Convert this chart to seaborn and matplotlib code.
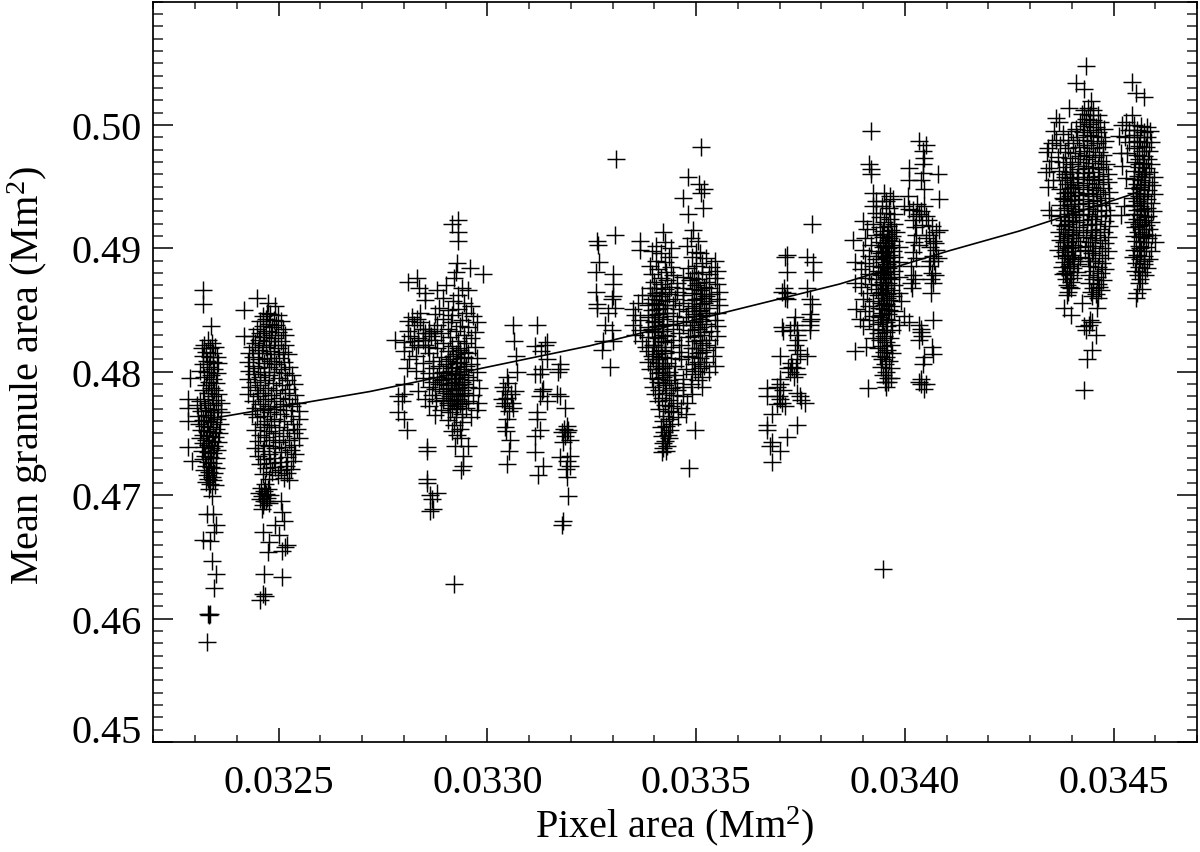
import matplotlib
matplotlib.use("Agg")
import matplotlib.pyplot as plt
import seaborn as sns
import pandas as pd
from matplotlib.ticker import MultipleLocator

# All points: (pixel area in 1e-6 Mm2, mean granule area in 1e-4 Mm2)
group_a = [(32320,4866),(32320,4855),(32339,4837),(32289,4795),(32284,4778),(32284,4771),(32284,4760),(32284,4739),(32292,4728),
(32334,4705),(32340,4699),(32329,4685),(32343,4685),(32350,4676),(32345,4670),(32320,4664),(32335,4663),(32341,4647),(32350,4636),(32345,4625),(32331,4604),(32334,4603),(32337,4604),(32329,4581),
(32330,4826),(32322,4822),(32340,4823),(32316,4819),(32335,4819),(32348,4820),(32326,4816),(32344,4815),(32318,4813),(32336,4812),(32352,4812),(32328,4809),(32342,4808),(32320,4806),(32356,4807),(32334,4804),(32346,4802),(32312,4801),(32328,4800),(32352,4799),(32338,4797),(32322,4796),(32344,4794),(32333,4792),(32350,4791),(32326,4789),(32338,4787),(32318,4785),(32346,4785),(32330,4783),(32356,4782),(32340,4780),(32322,4778),(32350,4777),(32312,4776),(32332,4775),(32362,4775),(32344,4773),(32304,4773),(32324,4771),(32354,4770),(32336,4769),(32314,4768),(32346,4767),(32362,4767),(32326,4765),(32306,4764),(32338,4763),(32352,4762),(32318,4761),(32330,4760),(32344,4759),(32310,4758),(32360,4758),(32322,4756),(32336,4755),(32350,4754),(32314,4753),(32328,4752),(32342,4751),(32358,4750),(32320,4749),(32334,4748),(32348,4747),(32312,4746),(32326,4745),(32340,4744),(32354,4743),(32318,4742),(32332,4741),(32346,4740),(32322,4739),(32338,4738),(32352,4737),(32316,4736),(32330,4735),(32344,4734),(32324,4732),(32336,4731),(32350,4730),(32320,4729),(32332,4727),(32344,4726),(32326,4724),(32338,4723),(32350,4722),(32322,4720),(32334,4719),(32346,4718),(32328,4716),(32340,4715),(32332,4713),(32344,4712),(32326,4711),(32336,4709),(32348,4708)]

group_b = [(32449,4860),(32418,4850),(32475,4856),(32492,4853),(32473,4848),(32418,4829),(32461,4689),(32463,4670),(32509,4686),(32492,4676),(32521,4660),(32509,4655),(32475,4654),(32478,4662),(32466,4636),(32509,4634),(32463,4620),(32456,4615),(32468,4618),(32515,4658),(32505,4695),(32512,4679),(32500,4668),(32470,4695),
(32480,4847),(32462,4845),(32498,4846),(32470,4843),(32488,4842),(32455,4841),(32505,4841),(32476,4839),(32494,4838),(32462,4837),(32484,4836),(32448,4835),(32510,4835),(32470,4833),(32498,4832),(32456,4831),(32482,4830),(32516,4830),(32440,4829),(32466,4828),(32492,4827),(32452,4826),(32476,4825),(32506,4825),(32444,4823),(32462,4822),(32488,4822),(32516,4822),(32436,4820),(32470,4820),(32498,4819),(32450,4818),(32480,4817),(32510,4816),(32430,4815),(32460,4815),(32490,4814),(32522,4814),(32440,4812),(32472,4811),(32502,4811),(32452,4810),(32482,4809),(32428,4808),(32514,4808),(32464,4807),(32494,4806),(32438,4805),(32476,4804),(32526,4804),(32450,4803),(32506,4802),(32430,4801),(32466,4800),(32490,4800),(32516,4799),(32442,4798),(32478,4797),(32532,4797),(32456,4796),(32500,4795),(32426,4794),(32468,4793),(32520,4793),(32444,4792),(32486,4791),(32536,4790),(32456,4789),(32508,4789),(32432,4788),(32474,4787),(32526,4786),(32448,4785),(32494,4785),(32462,4783),(32516,4783),(32428,4782),(32482,4781),(32540,4781),(32450,4780),(32504,4779),(32468,4778),(32526,4778),(32440,4776),(32488,4776),(32544,4775),(32456,4774),(32510,4774),(32474,4772),(32532,4772),(32444,4771),(32494,4770),(32462,4769),(32518,4769),(32548,4768),(32480,4767),(32436,4766),(32504,4766),(32466,4764),(32530,4764),(32448,4763),(32490,4762),(32548,4762),(32472,4760),(32514,4760),(32456,4758),(32534,4758),(32482,4757),(32500,4755),(32464,4755),(32544,4754),(32444,4753),(32520,4753),(32476,4752),(32492,4750),(32536,4750),(32456,4749),(32510,4748),(32470,4747),(32548,4746),(32486,4745),(32524,4745),(32450,4744),(32500,4743),(32464,4741),(32538,4741),(32478,4740),(32516,4739),(32444,4738),(32492,4738),(32530,4737),(32462,4736),(32506,4735),(32476,4733),(32540,4733),(32450,4732),(32520,4731),(32490,4730),(32466,4729),(32534,4728),(32504,4727),(32480,4726),(32456,4725),(32518,4724),(32492,4723),(32470,4722),(32530,4721),(32506,4720),(32484,4719),(32520,4718),(32462,4717),(32498,4716),(32512,4714),(32476,4713),(32526,4712),
(32468,4709),(32458,4706),(32474,4705),(32464,4703),(32452,4702),(32470,4701),(32480,4700),(32460,4699),(32472,4698),(32456,4697),(32466,4695),(32476,4694),(32462,4692)]

group_c = [(32930,4923),(32930,4913),(32930,4906),(32916,4920),(32927,4888),(32925,4881),(32920,4876),(32958,4884),(32989,4879),(32810,4873),(32832,4876),(32836,4868),(32855,4739),(32855,4736),(32855,4713),(32855,4710),(32880,4702),(32868,4697),(32863,4687),(32870,4689),(32862,4700),(32923,4740),(32954,4740),(32942,4732),(32942,4724),(32938,4720),(32920,4628),(32808,4753),(32779,4826),(32787,4780),(32787,4767),(32795,4776),(32800,4762),
(32850,4864),(32880,4866),(32900,4870),(32940,4868),(32955,4866),(32930,4862),(32895,4860),(32850,4858),(32918,4857),(32945,4856),(32960,4853),(32885,4852),(32930,4851),(32905,4850),(32838,4848),(32950,4848),(32875,4847),(32915,4846),(32965,4845),(32820,4844),(32832,4843),(32895,4843),(32940,4842),(32810,4841),(32840,4840),(32912,4840),(32975,4840),(32825,4838),(32880,4838),(32935,4837),(32955,4836),(32845,4835),(32905,4835),(32810,4833),(32925,4833),(32970,4832),(32860,4831),(32890,4831),(32945,4830),(32815,4829),(32910,4828),(32835,4827),(32960,4827),(32875,4826),(32930,4825),(32800,4824),(32895,4823),(32950,4823),(32850,4822),(32915,4821),(32820,4820),(32970,4820),(32880,4819),(32935,4818),(32800,4817),(32905,4817),(32955,4815),(32860,4815),(32925,4814),(32830,4813),(32890,4812),(32945,4812),(32975,4811),(32812,4810),(32910,4810),(32870,4809),(32935,4808),(32845,4807),(32900,4806),(32960,4806),(32885,4805),(32925,4804),(32808,4803),(32870,4803),(32945,4802),(32830,4801),(32912,4801),(32893,4800),(32975,4800),(32860,4799),(32935,4798),(32905,4797),(32880,4796),(32955,4796),(32845,4795),(32922,4795),(32895,4794),(32965,4793),(32870,4792),(32940,4792),(32912,4791),(32885,4790),(32800,4790),(32930,4789),(32860,4788),(32955,4788),(32905,4787),(32980,4787),(32875,4786),(32925,4785),(32835,4784),(32893,4784),(32945,4783),(32915,4782),(32800,4782),(32868,4781),(32965,4781),(32935,4780),(32895,4779),(32850,4778),(32915,4777),(32955,4776),(32878,4776),(32978,4775),(32935,4774),(32905,4773),(32860,4772),(32950,4771),(32925,4770),(32890,4769),(32975,4769),(32910,4767),(32940,4766),(32875,4765),(32925,4763),(32960,4763),(32905,4761),(32940,4759),(32920,4757),(32935,4754),(32915,4752),(32928,4749),(32936,4746)]

group_d = [(33061,4838),(33064,4825),(33068,4813),(33047,4796),(33071,4800),(33042,4784),(33066,4784),(33042,4775),(33059,4775),(33061,4771),(33047,4762),(33042,4755),(33054,4745),(33052,4736),(33047,4725),(33038,4788),(33048,4779),(33056,4782),(33040,4772),(33052,4768),(33036,4778),(33045,4752),(33050,4791),
(33119,4838),(33114,4821),(33138,4822),(33143,4824),(33143,4810),(33126,4798),(33114,4798),(33130,4802),(33174,4806),(33174,4802),(33169,4800),(33133,4786),(33126,4780),(33143,4776),(33174,4780),(33186,4771),(33119,4767),(33119,4762),(33126,4753),(33114,4748),(33114,4735),(33133,4724),(33121,4716),(33128,4817),(33132,4784),(33168,4782),
(33190,4756),(33190,4751),(33178,4751),(33198,4745),(33181,4743),(33174,4731),(33198,4732),(33198,4724),(33190,4715),(33193,4699),(33181,4679),(33178,4676),(33186,4748),(33194,4753),(33183,4754),(33192,4728),(33188,4721)]

group_e = [(33308,4972),(33262,4906),(33265,4903),(33305,4911),(33267,4889),(33260,4881),(33301,4879),(33301,4871),(33260,4865),(33301,4861),(33262,4855),(33262,4852),(33298,4859),(33305,4852),(33298,4834),(33301,4825),(33277,4825),(33274,4818),(33293,4804),(33290,4848),(33283,4838)]

group_f = [(33513,4982),(33480,4958),(33470,4941),(33513,4945),(33520,4948),(33508,4952),(33516,4933),(33480,4928),(33365,4906),(33365,4899),(33420,4913),(33497,4753),(33483,4722),(33492,4915),(33505,4906),(33488,4908),(33478,4902),(33500,4897),(33490,4893),(33510,4896),
(33425,4905),(33405,4902),(33440,4900),(33395,4898),(33415,4896),(33435,4893),(33525,4892),(33405,4890),(33545,4890),(33425,4889),(33515,4888),(33500,4886),(33390,4886),(33535,4885),(33440,4885),(33480,4884),(33410,4883),(33550,4882),(33428,4881),(33515,4881),(33495,4880),(33395,4879),(33530,4879),(33445,4878),(33470,4877),(33415,4876),(33545,4876),(33505,4875),(33430,4874),(33485,4874),(33400,4873),(33525,4873),(33455,4872),(33550,4871),(33415,4871),(33500,4870),(33440,4869),(33470,4868),(33390,4868),(33530,4868),(33425,4867),(33510,4866),(33455,4865),(33555,4865),(33405,4864),(33490,4864),(33435,4863),(33535,4863),(33370,4862),(33470,4862),(33415,4861),(33515,4860),(33395,4859),(33450,4859),(33550,4859),(33490,4858),(33430,4857),(33530,4857),(33360,4856),(33470,4856),(33405,4855),(33510,4855),(33385,4854),(33445,4854),(33555,4854),(33490,4853),(33420,4852),(33530,4852),(33460,4851),(33350,4851),(33395,4850),(33510,4850),(33480,4849),(33430,4848),(33550,4848),(33410,4847),(33495,4847),(33355,4846),(33525,4846),(33445,4845),(33385,4844),(33475,4844),(33420,4843),(33510,4843),(33365,4842),(33545,4842),(33455,4841),(33400,4840),(33495,4840),(33430,4839),(33525,4839),(33350,4838),(33470,4838),(33410,4837),(33550,4837),(33385,4836),(33510,4836),(33445,4835),(33365,4834),(33485,4834),(33420,4833),(33535,4833),(33400,4832),(33460,4831),(33355,4830),(33510,4830),(33430,4829),(33550,4829),(33385,4828),(33480,4828),(33410,4827),(33530,4826),(33445,4826),(33370,4825),(33495,4825),(33425,4824),(33515,4823),(33400,4822),(33465,4822),(33380,4820),(33545,4820),(33440,4820),(33490,4819),(33415,4818),(33525,4818),(33385,4817),(33460,4816),(33505,4815),(33425,4815),(33395,4813),(33480,4813),(33540,4813),(33440,4811),(33510,4811),(33410,4810),(33465,4810),(33385,4808),(33525,4808),(33430,4807),(33495,4806),(33405,4805),(33450,4805),(33545,4805),(33420,4803),(33510,4803),(33390,4802),(33475,4802),(33435,4800),(33530,4800),(33408,4799),(33490,4798),(33448,4797),(33420,4796),(33515,4796),(33395,4795),(33470,4794),(33435,4793),(33505,4793),(33410,4792),(33450,4791),(33488,4790),(33425,4789),(33470,4788),(33398,4788),(33515,4788),(33440,4787),(33412,4785),(33455,4785),(33428,4783),(33490,4782),(33402,4782),(33445,4781),(33470,4780),(33418,4779),(33435,4777),(33410,4776),(33455,4775),(33478,4775),(33425,4773),(33440,4772),(33465,4771),(33412,4770),(33432,4768),(33445,4767),(33475,4766),(33420,4764),(33458,4763),(33436,4762),(33422,4760),(33442,4758),(33428,4756),(33416,4755),(33438,4753),(33424,4751),(33432,4749),(33418,4748),(33436,4746),(33426,4744),(33420,4742),(33430,4740),(33422,4738),(33428,4736),(33418,4735)]

group_g = [(33777,4920),(33717,4895),(33712,4893),(33717,4881),(33765,4893),(33780,4889),(33780,4881),(33705,4865),(33717,4864),(33717,4859),(33767,4868),(33772,4859),(33777,4855),(33736,4844),(33772,4847),(33772,4841),(33705,4836),(33724,4834),(33741,4834),(33741,4830),(33772,4834),(33700,4813),(33741,4818),(33765,4813),(33741,4810),(33731,4804),(33724,4800),(33743,4798),(33700,4794),(33695,4788),(33671,4787),(33671,4780),(33705,4775),(33693,4774),(33741,4783),(33760,4775),(33683,4766),(33671,4757),(33671,4753),(33743,4757),(33719,4747),(33681,4743),(33676,4740),(33700,4736),(33683,4727),
(33735,4838),(33745,4826),(33738,4822),(33748,4814),(33728,4807),(33740,4803),(33735,4796),(33720,4803),(33700,4790),(33708,4785),(33698,4780),(33702,4778),(33712,4772),(33750,4780),(33752,4777),(33776,4843),(33774,4838),(33710,4868),(33712,4860),(33708,4833)]

group_h = [(33920,4995),(33915,4968),(33920,4964),(33920,4960),(33877,4907),(33880,4889),(33880,4872),(33884,4851),(33892,4843),(33899,4837),(33880,4817),(33908,4820),(33913,4787),(33956,4788),(33968,4795),(33960,4792),(33947,4640),
(33925,4945),(33950,4945),(33965,4942),(33932,4938),(33955,4938),(33972,4940),(33925,4934),(33945,4934),(33962,4933),(33930,4929),(33955,4929),(33975,4928),(33940,4925),(33965,4924),(33900,4922),(33950,4921),(33925,4920),(33975,4920),(33960,4918),(33940,4917),(33910,4916),(33968,4915),(33948,4914),(33980,4913),(33958,4912),(33930,4911),(33970,4910),(33948,4909),(33905,4908),(33960,4907),(33975,4906),(33940,4905),(33955,4904),(33920,4903),(33968,4903),(33948,4901),(33985,4901),(33960,4900),(33900,4899),(33935,4898),(33972,4898),(33952,4897),(33962,4895),(33915,4894),(33945,4894),(33975,4893),(33955,4892),(33930,4891),(33965,4890),(33985,4889),(33948,4889),(33905,4888),(33958,4887),(33925,4886),(33972,4886),(33945,4885),(33960,4884),(33895,4883),(33935,4882),(33975,4882),(33950,4881),(33965,4879),(33915,4879),(33942,4878),(33955,4877),(33985,4877),(33905,4876),(33930,4875),(33968,4875),(33948,4873),(33960,4872),(33920,4871),(33975,4870),(33940,4870),(33895,4869),(33955,4868),(33930,4867),(33968,4866),(33945,4865),(33910,4864),(33985,4864),(33958,4863),(33935,4862),(33972,4861),(33948,4860),(33900,4859),(33962,4858),(33925,4857),(33990,4857),(33942,4856),(33955,4855),(33915,4853),(33968,4853),(33938,4852),(33950,4851),(33905,4849),(33975,4849),(33945,4848),(33960,4847),(33925,4845),(33998,4845),(33940,4844),(33955,4843),(33915,4842),(33968,4842),(33948,4840),(33935,4839),(33985,4838),(33958,4837),(33925,4835),(33945,4834),(33970,4834),(33955,4832),(33935,4831),(33950,4829),(33925,4827),(33965,4827),(33940,4826),(33955,4824),(33968,4822),(33945,4821),(33935,4819),(33958,4818),(33950,4816),(33970,4815),(33940,4813),(33955,4812),(33945,4810),(33962,4809),(33952,4806),(33942,4804),(33968,4803),(33955,4800),(33948,4797),(33960,4795),(33952,4792)]

group_i = [(34035,4987),(34051,4984),(34043,4979),(34047,4973),(34043,4968),(34011,4965),(34079,4960),(34043,4961),(34039,4955),(34011,4955),(34047,4948),(34007,4942),(33999,4934),(34011,4932),(34083,4940),(34035,4928),(34051,4926),(34019,4923),(34083,4915),(34027,4911),(34059,4911),(34019,4897),(34075,4899),(34067,4894),(34059,4886),(34015,4872),(34067,4872),(34063,4864),(34067,4842),(34011,4840),(34039,4832),(34035,4826),(34067,4814),(34043,4806),(34039,4790),(34051,4790),
(34030,4936),(34045,4934),(34020,4931),(34040,4930),(34028,4926),(34055,4923),(34042,4919),(34065,4918),(34025,4917),(34075,4913),(34050,4908),(34068,4906),(34022,4905),(34035,4903),(34072,4904),(34060,4901),(34028,4892),(34070,4890),(34060,4890),(34080,4892),(34015,4886),(34065,4880),(34072,4878),(34020,4878),(34062,4875),(34018,4868),(34024,4875),(34035,4838),(34042,4829),(34038,4835),(34045,4812),(34040,4794),(34045,4786),(34065,4820),(34035,4792)]

group_j = [(34433,5048),(34411,5034),(34429,5029),(34445,5019),(34394,5014),(34362,5006),(34370,5002),(34358,4995),(34342,4981),(34350,4971),(34338,4962),(34342,4950),(34346,4931),(34350,4927),(34394,4869),(34382,4852),(34398,4846),(34425,4856),(34461,4852),(34465,4869),(34429,4837),(34441,4838),(34449,4840),(34435,4834),(34444,4842),(34457,4830),(34449,4818),(34437,4810),(34429,4785),(34352,4985),(34362,4988),(34346,4965),(34354,4955),(34340,4978),
(34440,5014),(34430,5012),(34452,5012),(34424,5009),(34444,5008),(34462,5008),(34434,5005),(34452,5004),(34420,5002),(34468,5002),(34442,5001),(34430,4999),(34458,4998),(34410,4997),(34478,4997),(34444,4996),(34398,4995),(34426,4994),(34464,4994),(34380,4993),(34436,4992),(34452,4991),(34412,4990),(34470,4990),(34390,4988),(34428,4988),(34446,4987),(34480,4987),(34404,4985),(34460,4985),(34372,4984),(34436,4984),(34418,4982),(34474,4982),(34392,4981),(34450,4981),(34430,4979),(34465,4978),(34384,4978),(34408,4977),(34442,4976),(34476,4976),(34420,4975),(34368,4974),(34456,4974),(34396,4973),(34434,4972),(34470,4971),(34380,4970),(34414,4970),(34448,4969),(34482,4968),(34400,4968),(34428,4967),(34462,4966),(34386,4966),(34440,4965),(34416,4964),(34474,4964),(34370,4963),(34400,4962),(34452,4962),(34430,4961),(34486,4960),(34384,4960),(34466,4959),(34412,4958),(34442,4958),(34396,4957),(34476,4956),(34426,4956),(34454,4955),(34376,4955),(34404,4954),(34488,4954),(34436,4953),(34464,4952),(34388,4952),(34416,4951),(34448,4950),(34398,4949),(34476,4949),(34428,4948),(34372,4948),(34458,4947),(34408,4946),(34490,4946),(34384,4945),(34438,4945),(34468,4944),(34418,4943),(34396,4942),(34450,4942),(34378,4941),(34480,4941),(34428,4940),(34406,4939),(34460,4939),(34388,4938),(34440,4937),(34490,4937),(34416,4936),(34372,4935),(34470,4935),(34398,4934),(34450,4934),(34428,4932),(34382,4931),(34482,4931),(34408,4930),(34460,4930),(34390,4928),(34438,4928),(34418,4927),(34492,4927),(34372,4926),(34470,4926),(34400,4925),(34448,4924),(34382,4923),(34428,4923),(34480,4922),(34410,4921),(34392,4920),(34458,4920),(34374,4919),(34436,4919),(34490,4918),(34418,4917),(34384,4916),(34468,4916),(34402,4915),(34446,4915),(34370,4913),(34426,4913),(34478,4913),(34392,4912),(34410,4911),(34456,4911),(34380,4910),(34486,4909),(34434,4909),(34400,4908),(34372,4907),(34468,4907),(34414,4906),(34388,4905),(34444,4905),(34480,4904),(34404,4903),(34378,4902),(34456,4902),(34420,4901),(34392,4900),(34472,4900),(34432,4899),(34368,4899),(34408,4898),(34486,4898),(34384,4897),(34448,4896),(34400,4895),(34466,4895),(34376,4894),(34420,4893),(34390,4892),(34480,4892),(34440,4892),(34406,4890),(34456,4890),(34382,4889),(34472,4888),(34396,4887),(34414,4887),(34444,4886),(34376,4885),(34462,4885),(34402,4884),(34480,4883),(34388,4882),(34450,4882),(34412,4881),(34470,4880),(34380,4879),(34396,4878),(34442,4878),(34460,4877),(34404,4876),(34452,4875),(34386,4875),(34474,4874),(34398,4873),(34442,4872),(34462,4871),(34388,4870),(34452,4868),(34398,4868),(34470,4866),(34445,4865),(34392,4865),(34458,4863),(34388,4862),(34448,4861),(34464,4860)]

group_k = [(34545,5035),(34553,5026),(34573,5023),(34545,5008),(34521,5000),(34537,4996),(34513,4991),(34517,4977),(34533,4977),(34521,4967),(34529,4957),(34525,4934),(34517,4927),(34561,4872),(34557,4864),(34553,4860),(34569,4867),(34530,5002),(34548,5000),(34538,4986),(34528,4990),
(34565,4999),(34580,4998),(34556,4996),(34572,4994),(34588,4995),(34550,4992),(34564,4990),(34580,4990),(34556,4987),(34574,4986),(34590,4986),(34560,4983),(34578,4982),(34550,4981),(34568,4979),(34586,4979),(34556,4976),(34574,4975),(34562,4972),(34582,4972),(34552,4970),(34570,4969),(34590,4968),(34560,4966),(34578,4965),(34550,4963),(34568,4962),(34586,4962),(34558,4959),(34576,4958),(34596,4958),(34548,4956),(34566,4955),(34584,4954),(34556,4952),(34574,4951),(34592,4951),(34546,4949),(34564,4948),(34582,4947),(34554,4945),(34572,4944),(34598,4944),(34562,4942),(34546,4941),(34580,4940),(34556,4938),(34570,4937),(34590,4937),(34550,4935),(34564,4934),(34580,4933),(34556,4931),(34572,4930),(34594,4930),(34548,4928),(34564,4927),(34582,4926),(34556,4924),(34572,4923),(34546,4921),(34590,4921),(34562,4920),(34578,4919),(34552,4917),(34568,4916),(34586,4916),(34558,4913),(34574,4912),(34548,4910),(34592,4911),(34564,4909),(34582,4908),(34554,4906),(34570,4905),(34600,4905),(34560,4902),(34578,4901),(34550,4899),(34566,4898),(34590,4898),(34556,4895),(34574,4894),(34546,4893),(34564,4891),(34584,4891),(34554,4888),(34572,4887),(34560,4885),(34580,4884),(34552,4882),(34568,4881),(34558,4878),(34576,4878),(34564,4875)]

# extra points in the black cores of the clusters
group_core = [(32930,4819),(32945,4816),(32918,4813),(32938,4811),(32905,4809),(32928,4807),(32948,4805),(32915,4803),(32935,4801),(32900,4799),(32925,4798),(32945,4797),(32912,4795),(32932,4794),(32890,4793),(32920,4792),(32945,4790),(32905,4789),(32930,4787),(32915,4786),(32940,4785),(32900,4783),(32925,4782),(32945,4781),(32910,4780),(32930,4778),(32895,4777),(32920,4776),(32940,4775),(32905,4775),(32928,4772),(32915,4771),
(32860,4835),(32872,4833),(32850,4831),(32865,4829),(32845,4826),(32825,4825),(32835,4822),(32858,4820),
(33405,4868),(33418,4865),(33395,4862),(33412,4858),(33400,4856),(33425,4854),(33408,4851),(33420,4848),(33395,4846),(33412,4844),(33402,4841),(33418,4838),(33395,4835),(33408,4833),(33422,4830),(33402,4828),(33415,4825),(33398,4822),(33410,4820),(33425,4817),(33405,4814),(33418,4812),(33398,4810),(33412,4807),(33425,4805),(33405,4802),(33418,4800),(33430,4797),(33408,4794),(33422,4791),
(33490,4876),(33505,4872),(33520,4869),(33495,4867),(33512,4863),(33525,4861),(33500,4859),(33518,4856),(33495,4852),(33508,4849),(33525,4848),(33500,4845),(33515,4841),(33490,4838),(33505,4835),(33520,4832),(33495,4829),(33510,4826),(33525,4822),(33500,4819),(33515,4816),(33490,4812),(33505,4808),(33520,4805),(33498,4801),
(33945,4912),(33962,4908),(33952,4902),(33942,4896),(33958,4893),(33950,4886),(33940,4880),(33960,4876),(33952,4870),(33942,4864),(33958,4860),(33950,4854),(33962,4850),(33944,4846),(33955,4840),
(34395,4962),(34385,4958),(34402,4950),(34392,4946),(34382,4940),(34398,4936),(34388,4933),(34404,4928),(34394,4922),(34384,4918),(34402,4913),(34392,4908),(34382,4905),(34398,4901),(34388,4895),(34404,4891),(34394,4886),(34384,4880),
(34440,4944),(34452,4938),(34442,4932),(34455,4926),(34445,4920),(34458,4913),(34448,4908),(34438,4902),(34452,4898),(34442,4890),
(34562,4968),(34572,4960),(34564,4950),(34574,4942),(34566,4932),(34576,4925),(34562,4918),(34572,4910),(34564,4900),(34574,4890)]

fit_x = [32332, 32372, 32719, 33245, 33843, 34106, 34274, 34537, 34575]
fit_y = [4762, 4764, 4784, 4821, 4871, 4898, 4914, 4943, 4948]

x_tick_labels = ["0.0325", "0.0330", "0.0335", "0.0340", "0.0345"]
y_tick_labels = ["0.45", "0.46", "0.47", "0.48", "0.49", "0.50"]

groups = [group_a, group_b, group_c, group_d, group_e, group_f, group_g, group_h, group_i, group_j, group_k, group_core]
pts = pd.DataFrame([p for g in groups for p in g], columns=["x", "y"])
pts["x"] *= 1e-6
pts["y"] *= 1e-4
fit = pd.DataFrame({"x": [v * 1e-6 for v in fit_x], "y": [v * 1e-4 for v in fit_y]})

sns.set_theme(style="ticks")
plt.rcParams["font.family"] = ["Liberation Serif", "DejaVu Serif"]
plt.rcParams["mathtext.default"] = "regular"
plt.rcParams["mathtext.fontset"] = "custom"
plt.rcParams["mathtext.rm"] = "Liberation Serif"

fig = plt.figure(figsize=(12.0, 8.53), dpi=100)
W, H = 1200, 853
ax = fig.add_axes([153.3 / W, 1 - 743 / H, (1197 - 153.3) / W, (743 - 2.5) / H])

sns.scatterplot(data=pts, x="x", y="y", ax=ax, marker="+", s=150, color="black", linewidth=1.05, legend=False, zorder=3)
sns.lineplot(data=fit, x="x", y="y", ax=ax, color="black", lw=1.2, sort=False, errorbar=None, estimator=None, zorder=2)

ax.set_xlim(0.0322, 0.0347)
ax.set_ylim(0.45, 0.51)
ax.set_xticks([0.0325, 0.0330, 0.0335, 0.0340, 0.0345], x_tick_labels)
ax.set_yticks([0.45, 0.46, 0.47, 0.48, 0.49, 0.50], y_tick_labels)
ax.xaxis.set_minor_locator(MultipleLocator(0.0001))
ax.yaxis.set_minor_locator(MultipleLocator(0.001))

ax.tick_params(axis="x", which="major", direction="in", length=10, width=1.1, top=True, bottom=True, labelsize=29, pad=15.5, colors="black")
ax.tick_params(axis="x", which="minor", direction="in", length=5, width=1.1, top=True, bottom=True)
ax.tick_params(axis="y", which="major", direction="in", length=14.5, width=1.1, left=True, right=True, labelsize=29, pad=8.4, colors="black")
ax.tick_params(axis="y", which="minor", direction="in", length=7.5, width=1.1, left=True, right=True)
ax.get_yticklabels()[0].set_verticalalignment("baseline")
for s in ax.spines.values():
    s.set_linewidth(1.25)
    s.set_color("black")
    s.set_visible(True)

ax.set_xlabel("Pixel area (Mm$^2$)", fontsize=29, color="black", va="baseline")
ax.set_ylabel("Mean granule area (Mm$^2$)", fontsize=29, color="black", va="baseline", ha="center", rotation=90, rotation_mode="anchor")
ax.xaxis.set_label_coords((675 - 153.3) / (1197 - 153.3), -(837 - 743) / (743 - 2.5), transform=ax.transAxes)
ax.yaxis.set_label_coords(-(153.3 - 39) / (1197 - 153.3), (743 - 375) / (743 - 2.5), transform=ax.transAxes)

fig.savefig("out.png", dpi=100, facecolor="white")
